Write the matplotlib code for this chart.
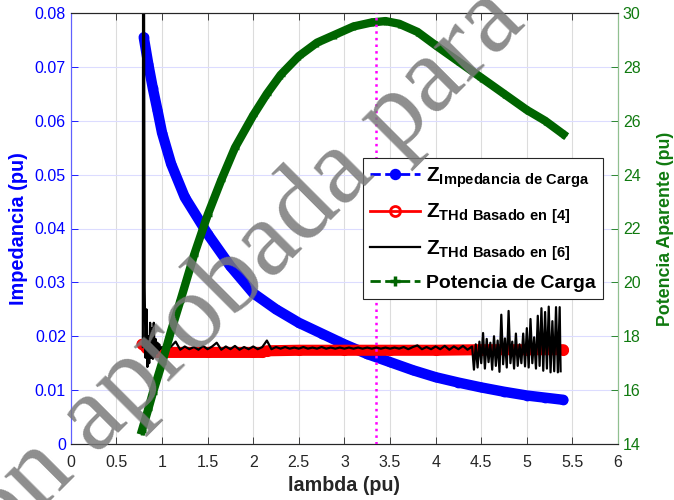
import numpy as np
import matplotlib
matplotlib.use("Agg")
import matplotlib.pyplot as plt
from matplotlib.ticker import FuncFormatter

plt.rcParams['font.family'] = ['Liberation Sans', 'DejaVu Sans']
plt.rcParams['mathtext.fontset'] = 'custom'
plt.rcParams['mathtext.rm'] = 'Liberation Sans'
plt.rcParams['mathtext.bf'] = 'Liberation Sans:bold'

# ---- data ----
# Z impedancia de carga (left axis)
lam_z = [0.80, 0.85, 0.90, 0.95, 1.00, 1.10, 1.25, 1.50, 1.75, 2.00, 2.25, 2.50,
         2.75, 3.00, 3.25, 3.50, 3.75, 4.00, 4.25, 4.50, 4.75, 5.00, 5.20, 5.40]
z_carga = [0.0755, 0.0705, 0.0660, 0.0620, 0.0578, 0.0520, 0.0458, 0.0390, 0.0330,
           0.0280, 0.0250, 0.0225, 0.0205, 0.0185, 0.0167, 0.0152, 0.0137, 0.0124,
           0.0114, 0.0105, 0.0097, 0.0090, 0.0086, 0.0082]

# Z THd basado en [4]
lam_r = [0.78, 0.80, 0.83, 0.86, 0.90, 1.00, 1.50, 2.00, 2.10, 2.15, 2.50, 3.00,
         3.50, 4.00, 4.50, 5.00, 5.40]
z_thd4 = [0.0185, 0.0183, 0.0178, 0.0173, 0.0170, 0.0170, 0.0170, 0.0170, 0.0170,
          0.0173, 0.0174, 0.0174, 0.0174, 0.0174, 0.0175, 0.0175, 0.0175]

# Z THd basado en [6]
lam_k_ini = [0.79, 0.795, 0.81, 0.82, 0.83, 0.84, 0.85, 0.86, 0.87, 0.88, 0.89, 0.90,
             0.91, 0.92, 0.93, 0.94, 0.95, 0.96, 0.97, 0.98]
z_k_ini = [0.0180, 0.1500, 0.0290, 0.0160, 0.0250, 0.0143, 0.0200, 0.0150, 0.0225,
           0.0160, 0.0215, 0.0158, 0.0225, 0.0162, 0.0195, 0.0168, 0.0188, 0.0172,
           0.0185, 0.0176]
lam_k_mid = list(np.round(np.arange(1.0, 4.401, 0.05), 2))
z_k_mid = [0.0180, 0.0176, 0.0181, 0.0190, 0.0175, 0.0181, 0.0176, 0.0180, 0.0175, 0.0182,
           0.0176, 0.0181, 0.0188, 0.0175, 0.0181, 0.0176, 0.0182, 0.0175, 0.0180, 0.0176,
           0.0181, 0.0176, 0.0180, 0.0192, 0.0176, 0.0180, 0.0177, 0.0180, 0.0177, 0.0179,
           0.0177, 0.0180, 0.0177, 0.0179, 0.0177, 0.0180, 0.0177, 0.0179, 0.0177, 0.0179,
           0.0177, 0.0179, 0.0177, 0.0179, 0.0177, 0.0179, 0.0177, 0.0179, 0.0177, 0.0179,
           0.0177, 0.0179, 0.0177, 0.0180, 0.0176, 0.0180, 0.0183, 0.0176, 0.0180, 0.0176,
           0.0181, 0.0176, 0.0182, 0.0175, 0.0181, 0.0176, 0.0182, 0.0175, 0.0181]
lam_k_end = list(np.round(np.arange(4.42, 5.37, 0.02), 2)) + [5.37]
z_k_end = [0.0138, 0.0185, 0.0142, 0.0190, 0.0150, 0.0206, 0.0140, 0.0195, 0.0152, 0.0188,
           0.0138, 0.0200, 0.0145, 0.0192, 0.0134, 0.0240, 0.0148, 0.0196, 0.0142, 0.0247,
           0.0150, 0.0190, 0.0140, 0.0205, 0.0145, 0.0185, 0.0150, 0.0205, 0.0144, 0.0215,
           0.0142, 0.0232, 0.0150, 0.0198, 0.0140, 0.0238, 0.0145, 0.0252, 0.0136, 0.0245,
           0.0140, 0.0255, 0.0133, 0.0228, 0.0135, 0.0254, 0.0133, 0.0254, 0.0135]
lam_thd6 = lam_k_ini + lam_k_mid + lam_k_end
z_thd6 = z_k_ini + z_k_mid + z_k_end

# Potencia de carga (right axis)
lam_p = [0.78, 0.85, 0.90, 1.00, 1.10, 1.20, 1.35, 1.50, 1.65, 1.80, 2.00, 2.15, 2.30,
         2.50, 2.70, 2.90, 3.10, 3.30, 3.45, 3.60, 3.80, 4.00, 4.25, 4.50, 4.75, 5.00,
         5.20, 5.40]
p_carga = [14.5, 15.3, 15.9, 17.0, 18.2, 19.3, 21.0, 22.5, 23.8, 25.0, 26.2, 27.0, 27.7,
           28.4, 28.9, 29.2, 29.5, 29.65, 29.7, 29.6, 29.3, 28.8, 28.2, 27.6, 27.0, 26.4,
           26.0, 25.5]

lam_opt = 3.35

# ---- figure ----
fig = plt.figure(figsize=(6.74, 5.0), dpi=100)
ax = fig.add_axes([0.105, 0.112, 0.812, 0.862])
ax2 = ax.twinx()

blue = '#0000ff'
green = '#006400'
gtick = '#107a10'

# thick bands stand in for the dense markers of the original
ax.plot(lam_z, z_carga, '-', color=blue, lw=7.5, solid_capstyle='round', zorder=2)
l1, = ax.plot(lam_z, z_carga, '--', color=blue, lw=2, marker='o', ms=6,
              mfc=blue, mec=blue, zorder=2,
              label=r'$\mathbf{Z}_{\mathbf{Impedancia\ de\ Carga}}$')
ax.plot(lam_r, z_thd4, '-', color='red', lw=8, solid_capstyle='round', zorder=3)
l2, = ax.plot(lam_r, z_thd4, '-', color='red', lw=2, marker='o', ms=6,
              mfc='none', mec='red', mew=2, zorder=3,
              label=r'$\mathbf{Z}_{\mathbf{THd\ Basado\ en\ [4]}}$')
l3, = ax.plot(lam_thd6, z_thd6, '-', color='black', lw=1.6, zorder=4,
              label=r'$\mathbf{Z}_{\mathbf{THd\ Basado\ en\ [6]}}$')

ax2.plot(lam_p, p_carga, '-', color=green, lw=6, zorder=2)
l4, = ax2.plot(lam_p, p_carga, '--', color=green, lw=2, marker='+', ms=6, mew=2.5,
               zorder=2, label='Potencia de Carga')
ax2.axvline(lam_opt, color='#ff00ff', ls=':', lw=1.8, zorder=5)

# axes
ax.set_xlim(0, 6)
ax.set_ylim(0, 0.08)
ax2.set_ylim(14, 30)
ax.set_xticks(np.arange(0, 6.01, 0.5))
ax.set_yticks(np.arange(0, 0.0801, 0.01))
ax2.set_yticks(np.arange(14, 30.1, 2))
fmt = FuncFormatter(lambda v, p: '%g' % round(v, 4))
ax.xaxis.set_major_formatter(fmt)
ax.yaxis.set_major_formatter(fmt)
ax2.yaxis.set_major_formatter(fmt)

ax.tick_params(axis='x', direction='in', length=5, colors='#262626', labelsize=11.5,
               top=True, pad=8, width=0.6)
ax.tick_params(axis='y', direction='in', length=5, colors=blue, labelsize=11.5, width=0.6)
ax2.tick_params(axis='y', direction='in', length=5, colors=gtick, labelsize=11.5, width=0.6)
ax.xaxis.grid(True, color='#dcdcdc', lw=0.8)
ax.yaxis.grid(True, color='#dcdcff', lw=0.8)
ax.set_axisbelow(True)

for a in (ax, ax2):
    a.spines['top'].set_color('#262626')
    a.spines['bottom'].set_color('#262626')
    a.spines['left'].set_color('#6060ff')
    a.spines['right'].set_color('#90c090')
    for s in a.spines.values():
        s.set_linewidth(0.8)

ax.set_xlabel('lambda (pu)', fontsize=14.2, fontweight='bold', color='#262626', labelpad=4)
ax.set_ylabel('Impedancia (pu)', fontsize=14.3, fontweight='bold', color=blue, labelpad=5)
ax2.set_ylabel('Potencia Aparente (pu)', fontsize=12.8, fontweight='bold', color=gtick,
               labelpad=12)

leg = ax2.legend(handles=[l1, l2, l3, l4], loc='upper left',
                 bbox_to_anchor=(363 / 674, 1 - 158 / 500), bbox_transform=fig.transFigure,
                 borderaxespad=0, fontsize=14, handlelength=2.6, handletextpad=0.3,
                 borderpad=0.35, labelspacing=0.6, fancybox=False, framealpha=1,
                 edgecolor='#262626', markerscale=1.2)
leg.get_frame().set_linewidth(0.8)
for t in leg.get_texts()[:3]:
    t.set_fontsize(15)
leg.get_texts()[3].set_fontweight('bold')

# watermark over the whole figure
fig.text(-0.031, -0.145, 'ión aprobada para', family='Liberation Serif', fontsize=78,
         color='#7a7a7a', alpha=0.85, rotation=45, rotation_mode='anchor',
         ha='left', va='baseline', zorder=10)

fig.savefig('out.png', dpi=100)
